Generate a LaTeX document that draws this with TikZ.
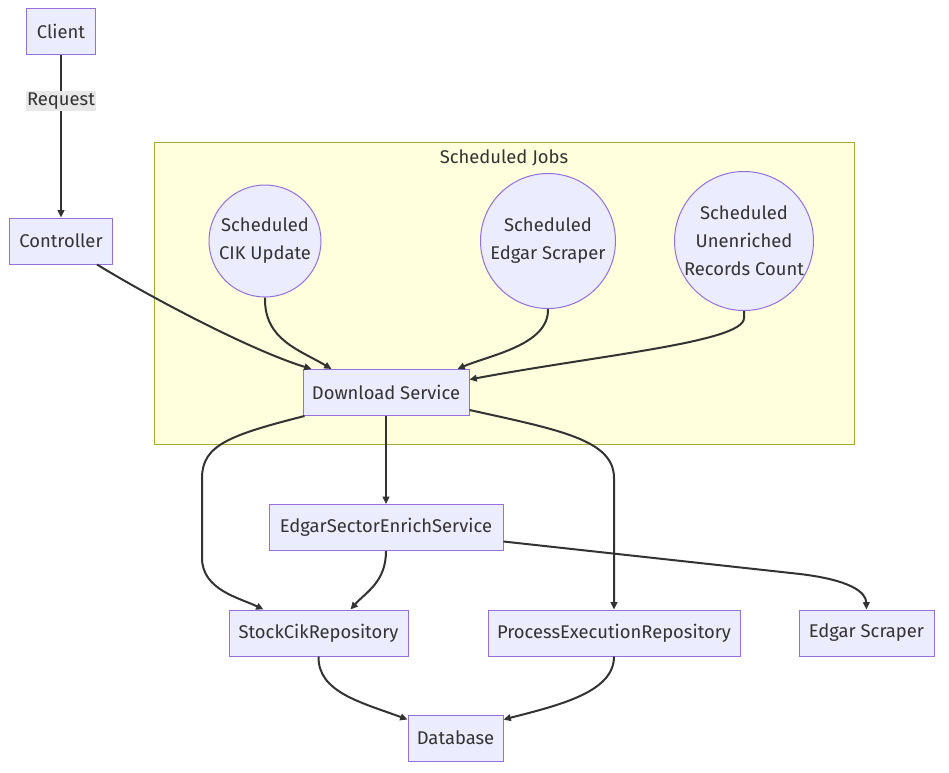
\documentclass[tikz,border=0pt]{standalone}
\usepackage{fontspec}
\setmainfont{Fira Sans}
\usetikzlibrary{arrows.meta,calc}
\definecolor{nfill}{HTML}{ECECFF}
\definecolor{nline}{HTML}{9370DB}
\definecolor{ntext}{HTML}{333333}
\definecolor{cfill}{HTML}{FFFFDE}
\definecolor{cline}{HTML}{AAAA33}
\definecolor{lblbg}{HTML}{E8E8E8}
\tikzset{
  txt/.style={text=ntext, font=\fontsize{13.8}{21}\selectfont},
  box/.style={txt, draw=nline, fill=nfill, line width=0.75pt, inner sep=0pt, minimum height=34.5pt},
  job/.style={txt, circle, draw=nline, fill=nfill, line width=0.75pt, inner sep=0pt, align=center},
  edge/.style={draw=ntext, line width=1.5pt, -{Triangle[length=5.5pt,width=5pt]}},
}
\begin{document}
\begin{tikzpicture}[x=0.75pt,y=-0.75pt]
\useasboundingbox (0,0) rectangle (949,772);
\fill[white] (0,0) rectangle (949,772);
% cluster
\draw[fill=cfill, draw=cline, line width=0.75pt] (154,142) rectangle (854,444);
\node[txt] (title) at (504,158) {Scheduled Jobs};
% nodes
\node[box, minimum width=51.75pt] (client) at (61,31) {Client};
\node[box, minimum width=77.25pt] (ctrl) at (61,241) {Controller};
\node[job, minimum size=84pt] (cik) at (265,241) {Scheduled\\CIK Update};
\node[job, minimum size=101.25pt] (edg) at (548,241) {Scheduled\\Edgar Scraper};
\node[job, minimum size=104.25pt] (une) at (744,241) {Scheduled\\Unenriched\\Records Count};
\node[box, minimum width=124.5pt] (dl) at (386,392.5) {Download Service};
\node[box, minimum width=175.5pt] (es) at (386,527.5) {EdgarSectorEnrichService};
\node[box, minimum width=134.25pt] (stock) at (318.5,633) {StockCikRepository};
\node[box, minimum width=189pt] (proc) at (614,633) {ProcessExecutionRepository};
\node[box, minimum width=101.25pt] (scr) at (866.5,633) {Edgar Scraper};
\node[box, minimum width=71.25pt] (db) at (455.5,738) {Database};
% edges
\draw[edge] (client) -- node[pos=0.285, txt, fill=lblbg, inner sep=1pt, font=\fontsize{13.8}{14}\selectfont] (req) {Request} (ctrl);
\draw[edge] ($(ctrl.south)+(36,0)$) .. controls (150,297) and (250,350) .. ($(dl.north west)+(9,0)$);
\draw[edge] (cik.south) .. controls (264,340) and (300,350) .. ($(dl.north west)+(29,0)$);
\draw[edge] (edg.south) .. controls (549,345) and (490,355) .. ($(dl.north east)+(-12,0)$);
\draw[edge] (une.south) -- (744,318) .. controls (744,342) and (600,355) .. ($(dl.east)+(0,-13)$);
\draw[edge] ($(dl.south west)+(2,0)$) .. controls (230,435) and (202,445) .. (202,478) -- (202,558) .. controls (202,590) and (240,598) .. ($(stock.north west)+(35,0)$);
\draw[edge] (dl.south) -- (es.north);
\draw[edge] ($(dl.south east)+(0,-6)$) .. controls (560,430) and (614,440) .. (614,478) -- (proc.north);
\draw[edge] (es.south) .. controls (386,582) and (366,592) .. ($(stock.north east)+(-58,0)$);
\draw[edge] ($(es.east)+(0,14)$) -- (800,574) .. controls (850,580) and (866,592) .. (scr.north);
\draw[edge] (stock.south) .. controls (318,692) and (360,702) .. ($(db.north west)+(0,5)$);
\draw[edge] (proc.south) .. controls (614,692) and (560,705) .. ($(db.north east)+(0,5)$);
\end{tikzpicture}
\end{document}
